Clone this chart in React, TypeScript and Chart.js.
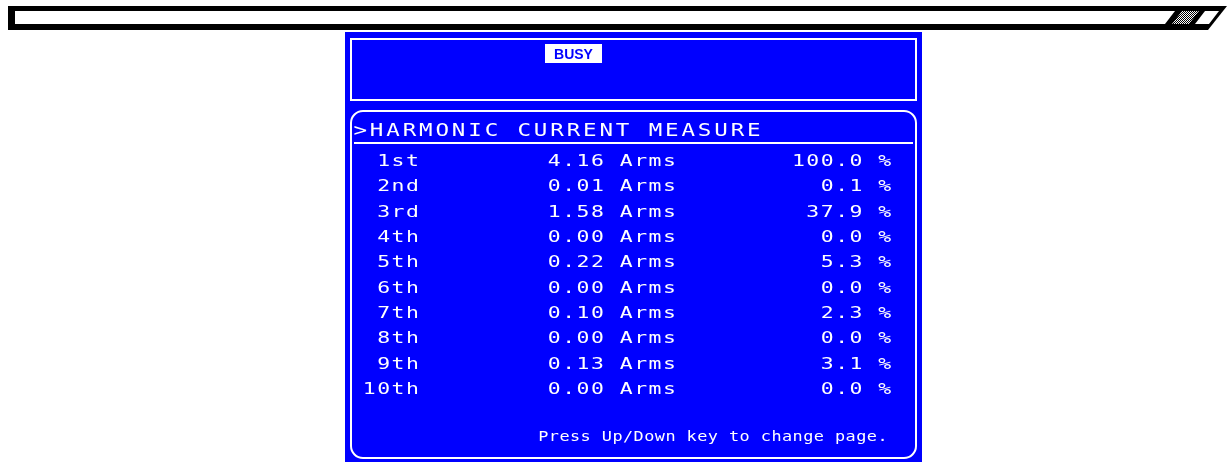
import React, { useEffect, useRef } from "react";
import { Chart, registerables } from "chart.js";

Chart.register(...registerables);

// ---- data read from the display ----
const ORDERS = ["1st", "2nd", "3rd", "4th", "5th", "6th", "7th", "8th", "9th", "10th"];
const CURRENT_ARMS = [4.16, 0.01, 1.58, 0.0, 0.22, 0.0, 0.1, 0.0, 0.13, 0.0];
const PERCENT = [100.0, 0.1, 37.9, 0.0, 5.3, 0.0, 2.3, 0.0, 3.1, 0.0];
const UNIT = "Arms";
const TITLE = ">HARMONIC CURRENT MEASURE";
const FOOTER = "Press Up/Down key to change page.";
const STATUS = "BUSY";

// ---- layout / style constants ----
const W = 1228;
const H = 462;
const BLUE = "#0000ff";
const WHITE = "#ffffff";
const MONO = '"DejaVu Sans Mono", "Liberation Mono", monospace';
const ROW_PITCH_X = 14.4;
const COL_ORDER_RIGHT = 419.6;
const COL_CURRENT_LEFT = 547;
const COL_PERCENT_RIGHT = 892;

function mono(
  ctx: CanvasRenderingContext2D,
  s: string,
  left: number,
  baseline: number,
  pitch: number,
  stretch: number
) {
  ctx.textAlign = "center";
  for (let i = 0; i < s.length; i++) {
    ctx.save();
    ctx.translate(left + pitch * (i + 0.5), baseline);
    ctx.scale(stretch, 1);
    ctx.fillText(s[i], 0, 0);
    ctx.restore();
  }
}

const panelPlugin = {
  id: "panel",
  beforeDraw(chart: any) {
    const ctx: CanvasRenderingContext2D = chart.ctx;
    ctx.save();
    // top bar
    ctx.fillStyle = "#000";
    ctx.beginPath();
    ctx.moveTo(8, 6);
    ctx.lineTo(1227, 6);
    ctx.lineTo(1208, 30);
    ctx.lineTo(8, 30);
    ctx.closePath();
    ctx.fill();
    ctx.fillStyle = WHITE;
    ctx.beginPath();
    ctx.moveTo(15, 11);
    ctx.lineTo(1175, 11);
    ctx.lineTo(1165, 24);
    ctx.lineTo(15, 24);
    ctx.closePath();
    ctx.fill();
    // dotted parallelogram
    const pc = document.createElement("canvas");
    pc.width = 2;
    pc.height = 2;
    const pctx = pc.getContext("2d")!;
    pctx.fillStyle = "#fff";
    pctx.fillRect(0, 0, 2, 2);
    pctx.fillStyle = "#000";
    pctx.fillRect(0, 0, 1, 1);
    pctx.fillRect(1, 1, 1, 1);
    const pat = ctx.createPattern(pc, "repeat");
    ctx.fillStyle = pat || "#888";
    ctx.beginPath();
    ctx.moveTo(1182, 11);
    ctx.lineTo(1199, 11);
    ctx.lineTo(1189, 24);
    ctx.lineTo(1172, 24);
    ctx.closePath();
    ctx.fill();
    ctx.fillStyle = WHITE;
    ctx.beginPath();
    ctx.moveTo(1205, 11);
    ctx.lineTo(1219, 11);
    ctx.lineTo(1209, 24);
    ctx.lineTo(1195, 24);
    ctx.closePath();
    ctx.fill();

    // blue screen
    ctx.fillStyle = BLUE;
    ctx.fillRect(345, 32, 577, H - 32);
    ctx.strokeStyle = WHITE;
    ctx.lineWidth = 2;
    ctx.strokeRect(351, 39, 565, 61);
    ctx.beginPath();
    (ctx as any).roundRect(351, 111, 565, 347, 12);
    ctx.stroke();
    ctx.beginPath();
    ctx.moveTo(354, 143);
    ctx.lineTo(913, 143);
    ctx.stroke();

    // BUSY tag
    ctx.fillStyle = WHITE;
    ctx.fillRect(545, 44, 57, 19);
    ctx.fillStyle = BLUE;
    ctx.font = 'bold 14px "Liberation Sans", Arial, sans-serif';
    ctx.textAlign = "center";
    ctx.textBaseline = "alphabetic";
    ctx.fillText(STATUS, 573.5, 59);
    ctx.restore();
  },
  afterDatasetsDraw(chart: any) {
    const ctx: CanvasRenderingContext2D = chart.ctx;
    const y = chart.scales.y;
    ctx.save();
    ctx.fillStyle = WHITE;
    ctx.textBaseline = "alphabetic";
    ctx.font = `18px ${MONO}`;
    mono(ctx, TITLE, 352, 135.5, 16.4, 1.25);
    ctx.font = `16.5px ${MONO}`;
    ORDERS.forEach((lab, i) => {
      const base = y.getPixelForValue(i + 1) + 6;
      mono(ctx, lab, COL_ORDER_RIGHT - lab.length * ROW_PITCH_X, base, ROW_PITCH_X, 1.3);
      const cur = `${CURRENT_ARMS[i].toFixed(2)} ${UNIT}`;
      mono(ctx, cur, COL_CURRENT_LEFT, base, ROW_PITCH_X, 1.3);
      const pct = `${PERCENT[i].toFixed(1)} %`;
      mono(ctx, pct, COL_PERCENT_RIGHT - pct.length * ROW_PITCH_X, base, ROW_PITCH_X, 1.3);
    });
    ctx.font = `13.5px ${MONO}`;
    mono(ctx, FOOTER, 538, 441, 10.6, 1.25);
    ctx.restore();
  },
};

export default function App() {
  const ref = useRef<HTMLCanvasElement | null>(null);
  useEffect(() => {
    if (!ref.current) return;
    const chart = new Chart(ref.current, {
      type: "scatter",
      data: {
        labels: ORDERS,
        datasets: [
          {
            label: "Current (Arms)",
            data: CURRENT_ARMS.map((v, i) => ({ x: COL_CURRENT_LEFT, y: i + 1 })),
            pointRadius: 0,
            showLine: false,
          },
          {
            label: "Ratio (%)",
            data: PERCENT.map((v, i) => ({ x: COL_PERCENT_RIGHT, y: i + 1 })),
            pointRadius: 0,
            showLine: false,
          },
        ],
      },
      options: {
        responsive: false,
        animation: false,
        layout: { padding: { top: 160, bottom: H - 388, left: 0, right: 0 } },
        scales: {
          x: { type: "linear", min: 0, max: W, display: false },
          y: { type: "linear", min: 1, max: 10, reverse: true, display: false },
        },
        plugins: { legend: { display: false }, tooltip: { enabled: false } },
      },
      plugins: [panelPlugin],
    });
    return () => chart.destroy();
  }, []);
  return (
    <div style={{ position: "fixed", left: 0, top: 0, width: W, height: H, background: "#fff" }}>
      <canvas ref={ref} width={W} height={H} />
    </div>
  );
}
